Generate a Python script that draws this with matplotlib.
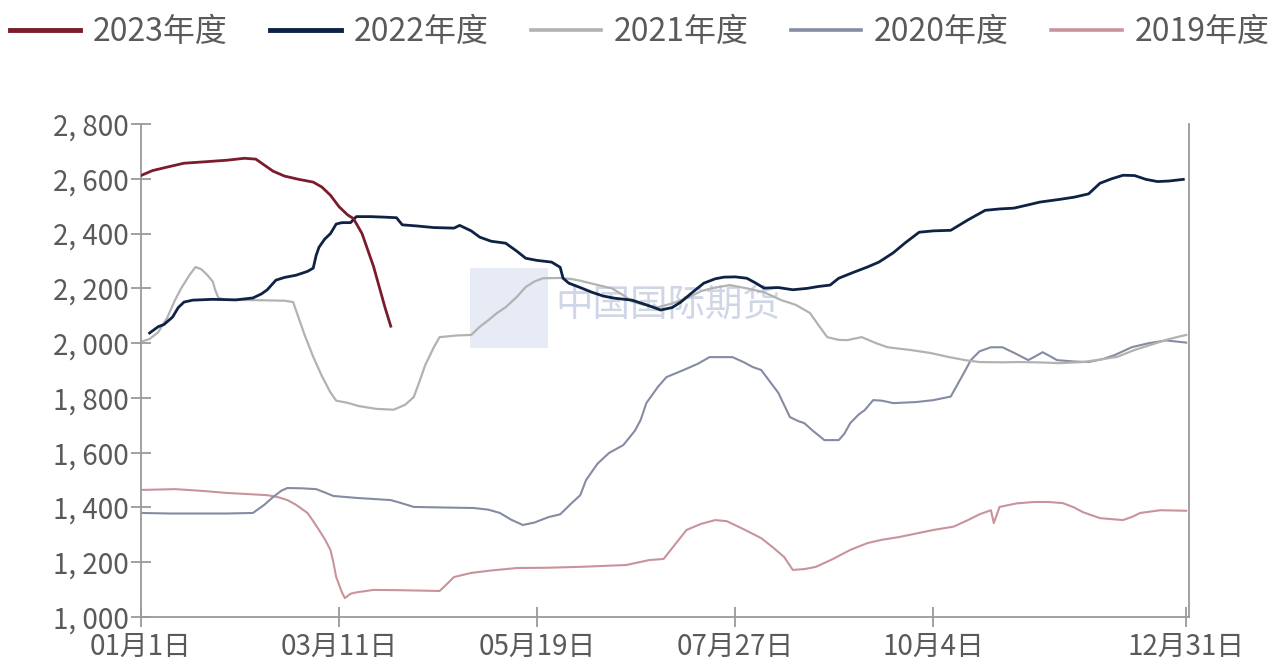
import matplotlib
matplotlib.use("Agg")
import matplotlib.pyplot as plt
from matplotlib.lines import Line2D
from matplotlib.patches import Rectangle
from matplotlib.ticker import FuncFormatter

plt.rcParams['font.family'] = ['Noto Sans CJK SC', 'DejaVu Sans']

# day of year (0 = Jan 1) and price for each season
d2023 = [0, 4, 10, 15, 22, 30, 36, 40, 43, 46, 50, 55, 60, 63, 66, 69, 72, 74, 77, 79, 81, 83, 85, 87]
v2023 = [2612, 2630, 2645, 2657, 2662, 2668, 2675, 2672, 2650, 2628, 2610, 2598, 2588, 2570, 2540, 2498, 2468, 2455, 2400, 2340, 2280, 2205, 2130, 2062]

d2022 = [3, 6, 8, 11, 13, 15, 18, 25, 33, 39, 42, 44, 47, 50, 54, 58, 60, 61, 62, 64, 66, 68, 70, 73,
         75, 80, 85, 89, 91, 96, 102, 109, 111, 115, 118, 122, 127, 131, 134, 138, 143, 146, 147, 149,
         153, 157, 161, 165, 171, 176, 181, 185, 188, 192, 196, 200, 203, 207, 211, 214, 217, 222, 227,
         232, 236, 240, 243, 248, 253, 257, 262, 266, 271, 276, 282, 288, 294, 299, 304, 309, 313, 320,
         325, 330, 334, 338, 342, 346, 350, 354, 358, 363]
v2022 = [2037, 2060, 2068, 2095, 2130, 2150, 2157, 2160, 2158, 2165, 2180, 2195, 2230, 2240, 2248, 2262,
         2274, 2320, 2350, 2380, 2400, 2435, 2440, 2440, 2462, 2462, 2460, 2458, 2432, 2428, 2422, 2420,
         2430, 2410, 2387, 2372, 2365, 2335, 2310, 2302, 2296, 2277, 2237, 2219, 2203, 2186, 2172, 2164,
         2157, 2140, 2121, 2130, 2150, 2185, 2219, 2235, 2241, 2242, 2237, 2220, 2201, 2203, 2195, 2200,
         2207, 2212, 2237, 2258, 2278, 2296, 2330, 2365, 2405, 2410, 2412, 2450, 2485, 2490, 2493, 2505,
         2515, 2525, 2533, 2545, 2584, 2600, 2613, 2612, 2598, 2590, 2592, 2598]

d2021 = [0, 3, 6, 9, 12, 14, 17, 19, 21, 23, 25, 26, 27, 30, 40, 50, 53, 55, 57, 60, 63, 66, 68, 72,
         76, 82, 88, 92, 95, 97, 99, 102, 104, 110, 115, 118, 121, 124, 127, 131, 134, 137, 140, 146,
         150, 153, 158, 164, 168, 171, 175, 180, 185, 191, 195, 199, 205, 211, 217, 223, 228, 233, 236,
         239, 243, 246, 251, 256, 260, 268, 275, 281, 287, 292, 300, 305, 312, 320, 328, 334, 340, 346,
         352, 358, 364]
v2021 = [2005, 2015, 2040, 2090, 2160, 2200, 2250, 2278, 2270, 2250, 2225, 2190, 2165, 2158, 2157, 2155,
         2150, 2090, 2030, 1950, 1880, 1820, 1790, 1782, 1770, 1760, 1757, 1775, 1803, 1860, 1920, 1985,
         2022, 2028, 2030, 2060, 2084, 2110, 2131, 2170, 2205, 2225, 2237, 2238, 2234, 2228, 2215, 2200,
         2175, 2152, 2140, 2131, 2145, 2168, 2190, 2201, 2212, 2200, 2186, 2157, 2140, 2110, 2065, 2022,
         2012, 2011, 2022, 2000, 1985, 1975, 1964, 1950, 1938, 1931, 1930, 1931, 1930, 1927, 1931, 1940,
         1950, 1975, 1995, 2015, 2030]

d2020 = [0, 10, 20, 30, 39, 43, 46, 49, 51, 56, 61, 64, 67, 75, 87, 91, 95, 105, 116, 121, 125, 129,
         133, 137, 142, 146, 150, 153, 155, 159, 163, 168, 172, 174, 176, 180, 183, 189, 194, 198, 206,
         210, 213, 216, 219, 222, 226, 229, 231, 234, 238, 243, 245, 247, 250, 252, 255, 258, 262, 270,
         276, 282, 286, 289, 292, 296, 300, 304, 309, 312, 314, 317, 319, 325, 330, 335, 339, 345, 351,
         357, 364]
v2020 = [1380, 1378, 1378, 1378, 1380, 1410, 1438, 1462, 1471, 1470, 1467, 1455, 1442, 1435, 1427, 1415,
         1402, 1400, 1398, 1392, 1380, 1355, 1336, 1345, 1365, 1375, 1416, 1445, 1500, 1560, 1599, 1628,
         1680, 1719, 1781, 1840, 1876, 1902, 1925, 1949, 1949, 1930, 1913, 1902, 1860, 1818, 1730, 1715,
         1708, 1680, 1646, 1646, 1670, 1708, 1740, 1755, 1792, 1790, 1781, 1785, 1792, 1805, 1880, 1938,
         1970, 1985, 1985, 1965, 1938, 1955, 1967, 1950, 1938, 1933, 1931, 1942, 1956, 1985, 2000, 2010,
         2002]

d2019 = [0, 12, 22, 30, 44, 48, 51, 54, 58, 60, 62, 64, 66, 67, 68, 70, 71, 73, 75, 81, 90, 100, 104,
         107, 109, 115, 122, 131, 142, 155, 169, 177, 182, 186, 190, 195, 200, 204, 210, 216, 220, 224,
         227, 231, 235, 241, 247, 253, 258, 264, 270, 276, 283, 288, 292, 296, 297, 299, 305, 311, 316,
         321, 325, 328, 334, 342, 345, 348, 355, 364]
v2019 = [1464, 1467, 1460, 1453, 1445, 1437, 1427, 1410, 1380, 1350, 1318, 1285, 1245, 1200, 1146, 1090,
         1069, 1085, 1090, 1099, 1098, 1096, 1095, 1125, 1146, 1161, 1170, 1179, 1180, 1184, 1190, 1208,
         1212, 1265, 1318, 1340, 1354, 1350, 1320, 1288, 1255, 1219, 1172, 1175, 1183, 1212, 1245, 1270,
         1282, 1292, 1305, 1318, 1330, 1354, 1375, 1390, 1343, 1402, 1415, 1420, 1420, 1416, 1400, 1383,
         1361, 1354, 1365, 1380, 1390, 1388]

labels = ["2023年度", "2022年度", "2021年度", "2020年度", "2019年度"]
colors = ["#7B1C2C", "#0E2244", "#B2B2B2", "#858BA3", "#C9939C"]

tick_days = [0, 69, 138, 207, 276, 364]
tick_labels = ["01月1日", "03月11日", "05月19日", "07月27日", "10月4日", "12月31日"]

text_color = "#5A5A5A"
axis_color = "#9A9A9A"

fig = plt.figure(figsize=(12.72, 6.68), dpi=100)
ax = fig.add_axes([0.1108, 0.0763, 0.824, 0.738])

# watermark
ax.add_patch(Rectangle((0.314, 0.546), 0.074, 0.162, transform=ax.transAxes,
                       facecolor="#DCE3F2", edgecolor="none", alpha=0.7, zorder=0))
ax.text(0.395, 0.63, "中国国际期货", transform=ax.transAxes, fontsize=27,
        color="#C4CDE0", alpha=0.8, va="center", ha="left", zorder=0)

ax.plot(d2019, v2019, color=colors[4], lw=1.5, zorder=2)
ax.plot(d2020, v2020, color=colors[3], lw=1.5, zorder=2)
ax.plot(d2021, v2021, color=colors[2], lw=1.6, zorder=2)
ax.plot(d2022, v2022, color=colors[1], lw=2.0, zorder=3)
ax.plot(d2023, v2023, color=colors[0], lw=2.0, zorder=4)

ax.set_xlim(0, 365)
ax.set_ylim(1000, 2800)
ax.set_yticks(range(1000, 2801, 200))
ax.yaxis.set_major_formatter(FuncFormatter(lambda v, p: f"{v:,.0f}".replace(",", ", ")))
ax.set_xticks(tick_days)
ax.set_xticklabels(tick_labels)

ax.spines["top"].set_visible(False)
for side in ["left", "bottom", "right"]:
    ax.spines[side].set_color(axis_color)
    ax.spines[side].set_linewidth(1.3)

ax.tick_params(axis="both", direction="inout", length=14, width=1.3, color=axis_color,
               labelcolor=text_color, labelsize=20)
ax.tick_params(axis="y", pad=2)
ax.tick_params(axis="x", pad=4)

handles = [Line2D([], [], color=c, lw=(3.5 if i < 2 else 2.6)) for i, c in enumerate(colors)]
fig.legend(handles, labels, loc="center", ncol=5, mode="expand",
           bbox_to_anchor=(0.008, 0.905, 0.99, 0.095), frameon=False,
           fontsize=23, handlelength=2.2, handletextpad=0.4, labelcolor=text_color,
           borderaxespad=0, borderpad=0)

fig.savefig("out.png", dpi=100, facecolor="white")
